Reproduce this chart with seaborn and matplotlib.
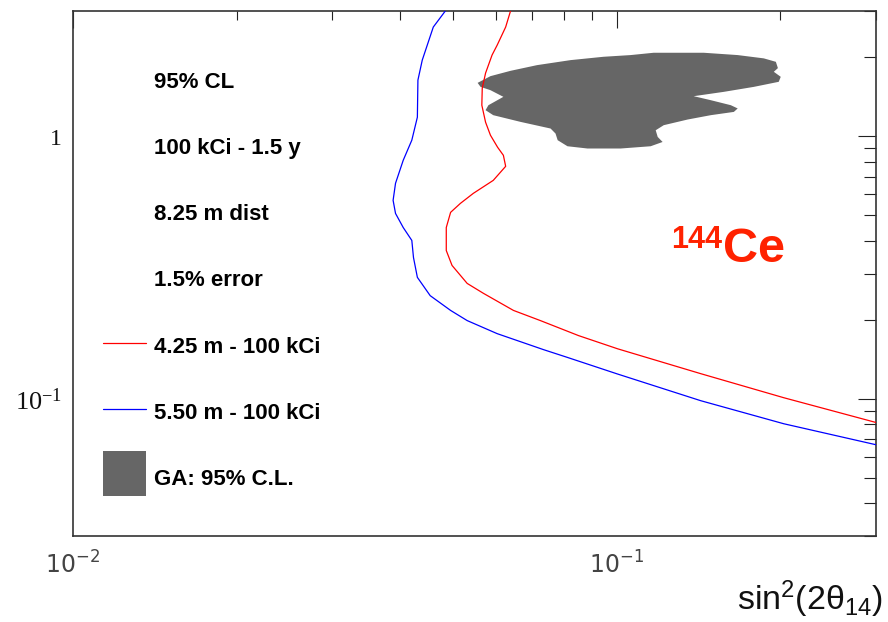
import numpy as np
import pandas as pd
import matplotlib
matplotlib.use('Agg')
import matplotlib.pyplot as plt
import seaborn as sns
from matplotlib.lines import Line2D
from matplotlib.patches import Patch
from matplotlib.legend_handler import HandlerLine2D, HandlerPatch
from matplotlib.ticker import NullFormatter, LogLocator

# ---------------- data ----------------
red_x = [0.0638, 0.0625, 0.0603, 0.0590, 0.0574, 0.0566, 0.0565, 0.0574, 0.0586,
         0.0604, 0.0619, 0.0625, 0.0593, 0.0545, 0.0516, 0.0495, 0.0486, 0.0486,
         0.0498, 0.0531, 0.0569, 0.0646, 0.0724, 0.0851, 0.1004, 0.1428, 0.2030, 0.3000]
red_y = [3.0, 2.606, 2.225, 2.038, 1.740, 1.525, 1.313, 1.131, 1.009,
         0.908, 0.846, 0.768, 0.679, 0.606, 0.555, 0.513, 0.449, 0.367,
         0.322, 0.275, 0.252, 0.217, 0.1985, 0.174, 0.155, 0.1246, 0.1009, 0.0812]

blue_x = [0.0484, 0.0460, 0.0439, 0.0431, 0.0430, 0.0420, 0.0405, 0.0392, 0.0388,
          0.0392, 0.0405, 0.0420, 0.0423, 0.0430, 0.0454, 0.0495, 0.0531, 0.0603,
          0.0734, 0.0811, 0.1003, 0.1428, 0.2030, 0.3000]
blue_y = [3.0, 2.606, 1.950, 1.636, 1.182, 0.966, 0.810, 0.662, 0.570,
          0.508, 0.449, 0.401, 0.345, 0.290, 0.247, 0.217, 0.1985, 0.177,
          0.1538, 0.1438, 0.1243, 0.0983, 0.0803, 0.0668]

ga_x = [0.0555, 0.0586, 0.0638, 0.0714, 0.0823, 0.0946, 0.1061, 0.1170, 0.1446,
        0.1670, 0.1865, 0.1963, 0.1980, 0.1946, 0.2004, 0.1987, 0.1788, 0.1574,
        0.1386, 0.1490, 0.1622, 0.1670, 0.1643, 0.1490, 0.1351, 0.1221, 0.1180,
        0.1190, 0.1215, 0.1155, 0.1017, 0.0884, 0.0812, 0.0779, 0.0772, 0.0756,
        0.0666, 0.0593, 0.0574, 0.0581, 0.0619, 0.0586, 0.0562]
ga_y = [1.597, 1.694, 1.775, 1.866, 1.950, 2.008, 2.038, 2.080, 2.080,
        2.038, 1.980, 1.921, 1.818, 1.760, 1.684, 1.612, 1.542, 1.476,
        1.421, 1.372, 1.313, 1.276, 1.238, 1.203, 1.158, 1.102, 1.054,
        0.994, 0.951, 0.916, 0.898, 0.898, 0.916, 0.966, 1.024, 1.070,
        1.134, 1.203, 1.257, 1.313, 1.413, 1.498, 1.542]

info_lines = ['95% CL', '100 kCi - 1.5 y', '8.25 m dist', '1.5% error']
series_labels = ['4.25 m - 100 kCi', '5.50 m - 100 kCi', 'GA: 95% C.L.']
x_ticks = [0.01, 0.1]
x_tick_labels = [r'$\mathtt{10^{-2}}$', r'$\mathtt{10^{-1}}$']
y_ticks = [0.1, 1.0]
y_tick_labels = [r'$\mathrm{10^{-1}}$', r'$\mathrm{1}$']
x_title = r'$\mathsf{sin^{2}(2\theta_{14})}$'
isotope_mass = '144'
isotope_name = 'Ce'

# ---------------- style ----------------
sns.set_theme(style='white')
plt.rcParams['font.family'] = ['Liberation Sans', 'DejaVu Sans']
plt.rcParams['mathtext.fontset'] = 'custom'
plt.rcParams['mathtext.rm'] = 'Liberation Serif'
plt.rcParams['mathtext.sf'] = 'Liberation Sans'
plt.rcParams['mathtext.tt'] = 'DejaVu Sans'
plt.rcParams['mathtext.it'] = 'Liberation Serif:italic'
plt.rcParams['mathtext.bf'] = 'Liberation Sans:bold'

fig = plt.figure(figsize=(8.88, 6.22), dpi=100)
fig.patch.set_facecolor('white')
ax = fig.add_axes([73 / 888, 86 / 622, 803 / 888, 525 / 622])
ax.set_facecolor('white')

red_df = pd.DataFrame({'x': red_x, 'y': red_y})
blue_df = pd.DataFrame({'x': blue_x, 'y': blue_y})

ax.fill(ga_x, ga_y, color='#666666', lw=0, zorder=1)
sns.lineplot(data=red_df, x='x', y='y', sort=False, estimator=None,
             color='#ff0000', lw=0.9, ax=ax, zorder=3)
sns.lineplot(data=blue_df, x='x', y='y', sort=False, estimator=None,
             color='#0000ff', lw=0.9, ax=ax, zorder=3)

ax.set_xscale('log')
ax.set_yscale('log')
ax.set_xlim(0.01, 0.3)
ax.set_ylim(0.03, 3.0)

ax.set_xticks(x_ticks, labels=x_tick_labels)
ax.set_yticks(y_ticks, labels=y_tick_labels)
ax.xaxis.set_minor_locator(LogLocator(base=10, subs=np.arange(2, 10)))
ax.yaxis.set_minor_locator(LogLocator(base=10, subs=np.arange(2, 10)))
ax.xaxis.set_minor_formatter(NullFormatter())
ax.yaxis.set_minor_formatter(NullFormatter())

ax.tick_params(which='both', direction='in', top=True, right=True,
               color='#222222', width=0.8)
ax.tick_params(axis='x', which='major', length=12.5, pad=11, labelsize=17,
               labelcolor='#444444')
ax.tick_params(axis='x', which='minor', length=6.5)
ax.tick_params(axis='y', which='major', length=13, pad=8, labelsize=16,
               labelcolor='#111111')
ax.tick_params(axis='y', which='minor', length=8.5)
ytl = ax.get_yticklabels()
ytl[0].set_fontsize(19)
ytl[1].set_fontsize(17)

for s in ax.spines.values():
    s.set_color('#333333')
    s.set_linewidth(1.2)
ax.grid(False)

ax.set_xlabel(x_title, fontsize=24.5, ha='right', va='baseline', color='#111111')
ax.xaxis.set_label_coords(1.0087, -0.141)
ax.set_ylabel('')


class LineAtTextCenter(HandlerLine2D):
    def create_artists(self, legend, orig_handle, xdescent, ydescent,
                       width, height, fontsize, trans):
        h = 2 * 0.45 * fontsize + ydescent
        return super().create_artists(legend, orig_handle, xdescent, ydescent,
                                      width, h, fontsize, trans)


class ShiftedPatch(HandlerPatch):
    def create_artists(self, legend, orig_handle, xdescent, ydescent,
                       width, height, fontsize, trans):
        arts = super().create_artists(legend, orig_handle, xdescent, ydescent,
                                      width, height, fontsize, trans)
        for a in arts:
            a.set_y(a.get_y() + 0.2 * fontsize)
        return arts


blank = [Line2D([], [], linestyle='none') for _ in info_lines]
red_h = Line2D([], [], color='#ff0000', lw=0.9)
blue_h = Line2D([], [], color='#0000ff', lw=0.9)
ga_h = Patch(facecolor='#666666', edgecolor='none')
handles = blank + [red_h, blue_h, ga_h]
labels = info_lines + series_labels

leg = ax.legend(handles, labels, loc='upper left',
                bbox_to_anchor=(0.0374, 0.9088), bbox_transform=ax.transAxes,
                frameon=False, borderpad=0, borderaxespad=0,
                handlelength=1.95, handleheight=2.74, handletextpad=0.36,
                labelspacing=0.95, labelcolor='black',
                prop={'family': 'Liberation Sans', 'weight': 'bold', 'size': 16},
                handler_map={red_h: LineAtTextCenter(), blue_h: LineAtTextCenter(),
                             ga_h: ShiftedPatch()})

ax.text(0.8082, 0.5486, isotope_mass, transform=ax.transAxes, ha='right',
        va='baseline', fontsize=22, fontweight='bold', color='#ff2200',
        family='Liberation Sans')
ax.text(0.8095, 0.5219, isotope_name, transform=ax.transAxes, ha='left',
        va='baseline', fontsize=35, fontweight='bold', color='#ff2200',
        family='Liberation Sans')

fig.savefig('out.png', dpi=100, facecolor='white')
